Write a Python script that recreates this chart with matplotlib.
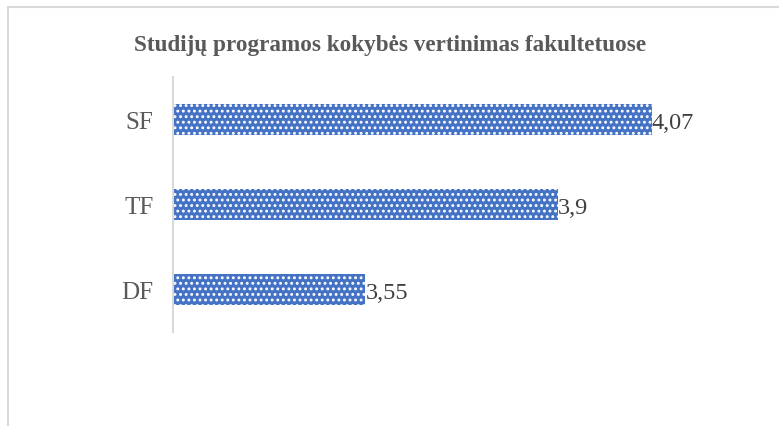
import numpy as np
import matplotlib.pyplot as plt
from matplotlib.patches import Rectangle

# Datos
fakultetai = ['DF', 'TF', 'SF']
vertinimai = [3.55, 3.9, 4.07]
etiketes = ['3,55', '3,9', '4,07']

plt.rcParams['font.family'] = ['Liberation Serif', 'DejaVu Serif']
plt.rcParams['hatch.linewidth'] = 1.3

W, H = 779, 427
fig = plt.figure(figsize=(W / 100, H / 100), dpi=100)
ax = fig.add_axes([173 / W, 94 / H, (723 - 173) / W, (333 - 78) / H])

y = np.arange(len(fakultetai))
inicio = 3.2
bars = ax.barh(y, [v - inicio for v in vertinimai], left=inicio, height=0.36,
               color='#4472C4', edgecolor='white', hatch='...', linewidth=0)
ax.set_xlim(3.2, 4.2)
ax.set_ylim(-0.5, 2.5)

for yi, v, lab in zip(y, vertinimai, etiketes):
    ax.text(v, yi - 0.03, lab, va='center', ha='left', fontsize=17.5, color='#404040')

ax.set_yticks(y)
ax.set_yticklabels(fakultetai, fontsize=18, color='#595959')
ax.tick_params(axis='y', length=0, pad=14)
ax.set_xticks([])
for s in ['top', 'right', 'bottom']:
    ax.spines[s].set_visible(False)
ax.spines['left'].set_color('#d9d9d9')
ax.spines['left'].set_linewidth(1.5)

fig.text(390 / W, 1 - 45 / H, 'Studijų programos kokybės vertinimas fakultetuose',
         ha='center', va='center', fontsize=16.7, fontweight='bold', color='#595959')

# marco
fig.patches.append(Rectangle((8 / W, -0.1), 1.2, 1 - 8 / H + 0.1, transform=fig.transFigure,
                             fill=False, edgecolor='#d9d9d9', linewidth=1.5))

plt.savefig('out.png', dpi=100)
